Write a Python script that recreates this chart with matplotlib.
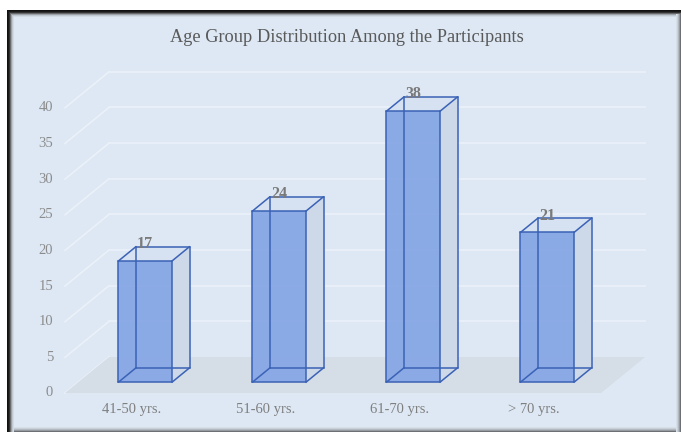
import matplotlib
matplotlib.use("Agg")
import matplotlib.pyplot as plt
from matplotlib.patches import Polygon, Rectangle
import numpy as np

plt.rcParams['font.family'] = ['Liberation Serif', 'DejaVu Serif']

# data
categories = ['41-50 yrs.', '51-60 yrs.', '61-70 yrs.', '> 70 yrs.']
counts = [17, 24, 38, 21]
yticks = [0, 5, 10, 15, 20, 25, 30, 35, 40]
title = 'Age Group Distribution Among the Participants'

W, H = 681, 432
fig = plt.figure(figsize=(W / 100, H / 100), dpi=100)
fig.patch.set_facecolor('white')

# pixel layout of the front plane
px_cat = 134.0      # px per category
px_val = 7.13       # px per unit
x0_px, y0_px = 132.0, 39.0   # category 0 centre / value 0 (from bottom)
ddx = 44 / px_cat   # depth vector in data units
ddy = 36 / px_val

ax = fig.add_axes([0, 0, 1, 1])
ax.set_xlim(-x0_px / px_cat, (W - x0_px) / px_cat)
ax.set_ylim(-y0_px / px_val, (H - y0_px) / px_val)
ax.axis('off')


def P(x, v, z):
    return (x + z * ddx, v + z * ddy)


def px(x, y):
    # pixel from top-left -> figure fraction
    return x / W, 1 - y / H


# frame and background
bg = '#dde8f4'
fig.patches.append(Rectangle(px(7, 432), (W - 7) / W, (432 - 10) / H,
                             transform=fig.transFigure, facecolor=bg,
                             edgecolor='none', zorder=-10))
for i, c in enumerate(['#111111', '#1a1a1a', '#333333', '#6a6a6a', '#9aa1a9', '#bfc7d0', '#d2dae3']):
    fig.patches.append(Rectangle(px(7 + i, 432), 1 / W, (432 - 10 - i) / H,
                                 transform=fig.transFigure, facecolor=c,
                                 edgecolor='none', zorder=-9))
    fig.patches.append(Rectangle(px(7 + i, 11 + i), (W - 7 - i) / W, 1 / H,
                                 transform=fig.transFigure, facecolor=c,
                                 edgecolor='none', zorder=-9))
for i, c in enumerate(['#6d7075', '#969ba2', '#b3b9c1', '#c9d0d8', '#d6dee7']):
    fig.patches.append(Rectangle(px(W - 1 - i, 432), 1 / W, (432 - 14) / H,
                                 transform=fig.transFigure, facecolor=c,
                                 edgecolor='none', zorder=-8))
    fig.patches.append(Rectangle(px(14, 432 - i), (W - 14 - i) / W, 1 / H,
                                 transform=fig.transFigure, facecolor=c,
                                 edgecolor='none', zorder=-8))

n = len(categories)
xl, xr = -0.5, n - 0.5
ymax = yticks[-1]

# floor
ax.add_patch(Polygon([P(xl, 0, 0), P(xr, 0, 0), P(xr, 0, 1), P(xl, 0, 1)],
                     closed=True, facecolor='#d5dde6', edgecolor='none', zorder=1))

# gridlines on back and side walls
grid_c = '#ebf1f9'
for v in yticks:
    if v == 0:
        continue
    a, b = P(xl, v, 1), P(xr, v, 1)
    ax.plot([a[0], b[0]], [a[1], b[1]], color=grid_c, lw=1.2, zorder=0.5)
    a, b = P(xl, v, 0), P(xl, v, 1)
    ax.plot([a[0], b[0]], [a[1], b[1]], color=grid_c, lw=1.2, zorder=0.5)
a, b = P(xl, 0, 0), P(xl, 0, 1)
ax.plot([a[0], b[0]], [a[1], b[1]], color=grid_c, lw=1.2, zorder=0.5)

# y tick labels
for v in yticks:
    x, y = P(xl, v, 0)
    ax.text(x - 12 / px_cat, y, str(v), ha='right', va='center',
            fontsize=10.5, color='#8c8c8c')

# category labels
for i, lab in enumerate(categories):
    x, y = P(i, 0, 0)
    ax.text(x, y - 17 / px_val, lab, ha='center', va='center',
            fontsize=10.5, color='#7f7f7f')

# bars
edge = '#3b62b6'
hw = 0.2
z0, z1 = 0.3, 0.7
for i, v in enumerate(counts):
    fbl, fbr = P(i - hw, 0, z0), P(i + hw, 0, z0)
    ftl, ftr = P(i - hw, v, z0), P(i + hw, v, z0)
    bbl, bbr = P(i - hw, 0, z1), P(i + hw, 0, z1)
    btl, btr = P(i - hw, v, z1), P(i + hw, v, z1)
    # right side
    ax.add_patch(Polygon([fbr, bbr, btr, ftr], closed=True,
                         facecolor='#cdd9e9', edgecolor='none', zorder=2))
    # top
    ax.add_patch(Polygon([ftl, ftr, btr, btl], closed=True,
                         facecolor='#d6e1f1', edgecolor='none', zorder=2))
    # front
    ax.add_patch(Polygon([fbl, fbr, ftr, ftl], closed=True,
                         facecolor='#86a7e5', edgecolor='none', alpha=0.95, zorder=3))
    edges = [(fbl, fbr), (fbr, ftr), (ftr, ftl), (ftl, fbl),
             (bbl, bbr), (bbr, btr), (btr, btl), (btl, bbl),
             (fbl, bbl), (fbr, bbr), (ftl, btl), (ftr, btr)]
    for a, b in edges:
        ax.plot([a[0], b[0]], [a[1], b[1]], color=edge, lw=1.1, zorder=4,
                solid_capstyle='round')
    lx = P(i, v, z0)[0]
    ly = P(i, v, z1)[1]
    ax.text(lx, ly + 2.5 / px_val, str(v), ha='center', va='center',
            fontsize=11.5, color='#7a7a7a', fontweight='bold', zorder=5)

fig.text(347 / W, 1 - 38 / H, title, ha='center', va='center',
         fontsize=13.2, color='#595959')

fig.savefig('out.png', dpi=100, facecolor=fig.get_facecolor())
